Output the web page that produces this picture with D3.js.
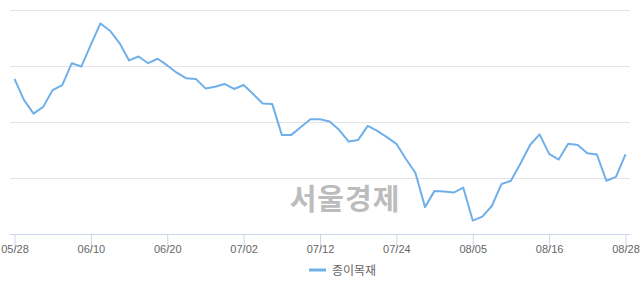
<!DOCTYPE html>
<html><head><meta charset="utf-8">
<script src="https://cdn.jsdelivr.net/npm/d3@7"></script>
<style>html,body{margin:0;padding:0;background:#fff;}svg{display:block;}</style>
</head><body>
<svg id="chart" width="640" height="294"></svg>
<script>
const dates = ["05/28","05/29","05/30","05/31","06/03","06/04","06/05","06/07","06/10","06/11","06/12","06/13","06/14","06/17","06/18","06/19","06/20","06/21","06/24","06/25","06/26","06/27","06/28","07/01","07/02","07/03","07/04","07/05","07/08","07/09","07/10","07/11","07/12","07/15","07/16","07/17","07/18","07/19","07/22","07/23","07/24","07/25","07/26","07/29","07/30","07/31","08/01","08/02","08/05","08/06","08/07","08/08","08/09","08/12","08/13","08/14","08/16","08/19","08/20","08/21","08/22","08/23","08/26","08/27","08/28"];
const values = [397.7,393.9,391.5,392.7,395.7,396.6,400.5,399.9,403.8,407.6,406.3,404.1,401.0,401.7,400.5,401.3,400.1,398.8,397.8,397.7,396.0,396.3,396.8,395.9,396.6,395.0,393.3,393.2,387.7,387.7,389.1,390.5,390.5,390.1,388.6,386.5,386.8,389.3,388.4,387.3,386.1,383.4,380.9,374.8,377.7,377.6,377.4,378.3,372.4,373.1,375.0,378.9,379.5,382.6,385.9,387.8,384.3,383.3,386.1,385.9,384.4,384.2,379.5,380.2,384.2];
const tickLabels = ["05/28","06/10","06/20","07/02","07/12","07/24","08/05","08/16","08/28"];
const gridValues = [380,390,400,410];
const seriesName = "종이목재";
const watermark = "서울경제";

const svg = d3.select("#chart");
const x = d3.scalePoint().domain(dates).range([14.5, 625.5]);
const y = d3.scaleLinear().domain([370, 410]).range([234, 10]);

// gridlines
svg.append("g").selectAll("line").data(gridValues).join("line")
  .attr("x1", 10).attr("x2", 630)
  .attr("y1", d => y(d)).attr("y2", d => y(d))
  .attr("stroke", "#e4e4e4").attr("stroke-width", 1).attr("shape-rendering","crispEdges");

// watermark
svg.append("text").attr("x", 345).attr("y", 210).attr("text-anchor","middle")
  .attr("font-family","'Noto Sans CJK KR', sans-serif").attr("font-weight","bold")
  .attr("font-size", 29).attr("letter-spacing", 1).attr("fill","#bcbcbc").text(watermark);

// x axis
const xAxis = d3.axisBottom(x).tickValues(tickLabels).tickSize(17).tickPadding(-1);
const ax = svg.append("g").attr("transform","translate(0,234)").call(xAxis);
ax.select(".domain").remove();
ax.append("line").attr("x1",10).attr("x2",630).attr("y1",0.5).attr("y2",0.5)
  .attr("stroke","#c9d6ec").attr("stroke-width",1);
ax.selectAll(".tick line").attr("stroke","#c9d6ec");
ax.selectAll(".tick text").attr("fill","#666").attr("font-size",11)
  .attr("font-family","'Liberation Sans', Arial, sans-serif").attr("dy","0.3em");

// line
const line = d3.line().x((d,i) => x(dates[i])).y(d => y(d));
svg.append("path").datum(values).attr("d", line)
  .attr("fill","none").attr("stroke","#70b0ea").attr("stroke-width",2)
  .attr("stroke-linejoin","round");

// legend
const lg = svg.append("g");
lg.append("line").attr("x1",309).attr("x2",326).attr("y1",270).attr("y2",270)
  .attr("stroke","#70b0ea").attr("stroke-width",3);
lg.append("text").attr("x",332).attr("y",274.5)
  .attr("font-family","'Noto Sans CJK KR', sans-serif").attr("font-size",12)
  .attr("fill","#666").text(seriesName);
</script>
</body></html>
